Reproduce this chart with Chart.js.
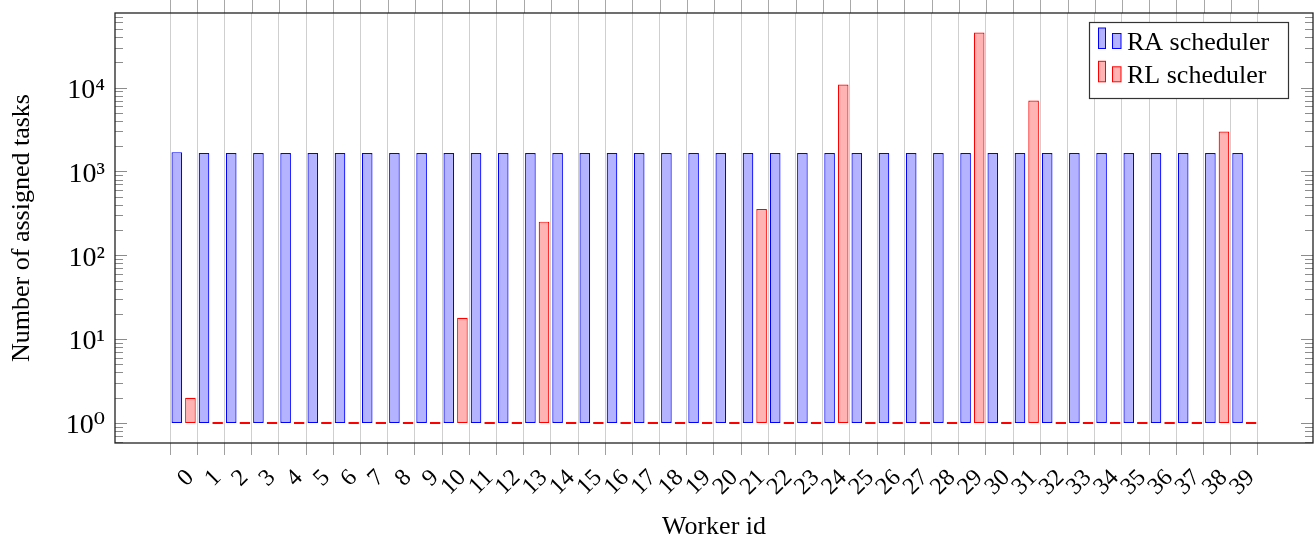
<!DOCTYPE html>
<html>
<head>
<meta charset="utf-8">
<script src="https://cdn.jsdelivr.net/npm/chart.js@4.4.1/dist/chart.umd.min.js"></script>
<style>
  html, body { margin: 0; padding: 0; background: #fff; }
  #wrap { width: 1316px; height: 546px; }
</style>
</head>
<body>
<div id="wrap"><canvas id="tasksChart" width="1316" height="546"></canvas></div>
<script>
const workerIds = [0, 1, 2, 3, 4, 5, 6, 7, 8, 9, 10, 11, 12, 13, 14, 15, 16, 17, 18, 19,
  20, 21, 22, 23, 24, 25, 26, 27, 28, 29, 30, 31, 32, 33, 34, 35, 36, 37, 38, 39];
const raTasks = [1700, 1660, 1660, 1660, 1660, 1660, 1660, 1660, 1660, 1660,
  1660, 1660, 1660, 1660, 1660, 1660, 1660, 1660, 1660, 1660,
  1660, 1660, 1660, 1660, 1660, 1660, 1660, 1660, 1660, 1660,
  1660, 1660, 1660, 1660, 1660, 1660, 1660, 1660, 1660, 1660];
const rlTasks = [2, 1, 1, 1, 1, 1, 1, 1, 1, 1,
  18, 1, 1, 252, 1, 1, 1, 1, 1, 1,
  1, 357, 1, 1, 10900, 1, 1, 1, 1, 45300,
  1, 7000, 1, 1, 1, 1, 1, 1, 2990, 1];
const seriesNames = ["RA scheduler", "RL scheduler"];
const yMajorValues = [1, 10, 100, 1000, 10000];
const yMajorLabels = ["10\u2070", "10\u00B9", "10\u00B2", "10\u00B3", "10\u2074"];

const SERIF = "'Liberation Serif', 'DejaVu Serif', serif";
const Y_MIN = 0.577;
const Y_MAX = 77600;

// grid lines sit between the groups, one more than there are workers
const xGridValues = workerIds.map((id) => id - 0.5).concat([workerIds[workerIds.length - 1] + 0.5]);

// log ticks 1..9 per decade, only the powers get a label
const yTickValues = [];
[0.1, 1, 10, 100, 1000, 10000].forEach((decade) => {
  for (let m = 1; m <= 9; m++) {
    const v = m * decade;
    if (v >= Y_MIN && v <= Y_MAX) yTickValues.push(v);
  }
});

function noEdgePadding(scale) {
  scale.paddingTop = 0;
  scale.paddingBottom = 0;
  scale.paddingLeft = 0;
  scale.paddingRight = 0;
}

const framePlugin = {
  id: "frame",
  afterDraw(chart) {
    const { ctx, chartArea: area, scales } = chart;
    const y = scales.y;
    const x = scales.x;
    ctx.save();

    // inner ticks on left and right
    ctx.strokeStyle = "#8c8c8c";
    ctx.lineWidth = 1;
    yTickValues.forEach((v) => {
      const py = Math.round(y.getPixelForValue(v)) + 0.5;
      const len = yMajorValues.includes(v) ? 12 : 8;
      ctx.beginPath();
      ctx.moveTo(area.left, py);
      ctx.lineTo(area.left + len, py);
      ctx.moveTo(area.right, py);
      ctx.lineTo(area.right - len, py);
      ctx.stroke();
    });

    // tick marks above the top border
    ctx.strokeStyle = "#a8a8a8";
    xGridValues.forEach((v) => {
      const px = Math.round(x.getPixelForValue(v)) + 0.5;
      ctx.beginPath();
      ctx.moveTo(px, area.top - 13);
      ctx.lineTo(px, area.top);
      ctx.stroke();
    });

    // frame
    ctx.strokeStyle = "#222";
    ctx.lineWidth = 1.3;
    ctx.strokeRect(area.left, area.top, area.right - area.left, area.bottom - area.top);

    // legend box
    const bx = 1089.5, by = 22.5, bw = 199, bh = 76;
    ctx.fillStyle = "#fff";
    ctx.fillRect(bx, by, bw, bh);
    ctx.strokeStyle = "#333";
    ctx.lineWidth = 1.2;
    ctx.strokeRect(bx, by, bw, bh);
    chart.data.datasets.forEach((ds, i) => {
      const top = 28 + i * 33.3;
      ctx.lineWidth = 1;
      ctx.fillStyle = ds.backgroundColor;
      ctx.strokeStyle = ds.borderColor;
      ctx.fillRect(1098.5, top, 7, 20.5);
      ctx.strokeRect(1098.5, top, 7, 20.5);
      ctx.fillRect(1112.5, top + 5.5, 8.5, 15);
      ctx.strokeRect(1112.5, top + 5.5, 8.5, 15);
      ctx.fillStyle = "#000";
      ctx.font = "26px " + SERIF;
      ctx.textBaseline = "alphabetic";
      ctx.textAlign = "left";
      ctx.fillText(ds.label, 1127, top + 21.5);
    });
    ctx.restore();
  }
};

new Chart(document.getElementById("tasksChart").getContext("2d"), {
  type: "bar",
  data: {
    datasets: [{
      label: seriesNames[0],
      data: workerIds.map((id, i) => ({ x: id, y: raTasks[i] })),
      backgroundColor: "#b3b3ff",
      borderColor: "#0000ff",
      borderWidth: 1.2,
      borderSkipped: false,
      base: 1
    }, {
      label: seriesNames[1],
      data: workerIds.map((id, i) => ({ x: id, y: rlTasks[i] })),
      backgroundColor: "#ffb3b3",
      borderColor: "#ff0000",
      borderWidth: 1.2,
      borderSkipped: false,
      minBarLength: 2,
      base: 1
    }]
  },
  options: {
    responsive: false,
    animation: false,
    categoryPercentage: 1.0,
    barPercentage: 0.78,
    layout: { padding: { left: 0, right: 3, top: 13, bottom: 0 } },
    plugins: {
      legend: { display: false },
      tooltip: { enabled: false }
    },
    scales: {
      x: {
        type: "linear",
        min: -2.523,
        max: 41.523,
        offset: false,
        afterBuildTicks: (scale) => {
          scale.ticks = xGridValues.map((v) => ({ value: v }));
        },
        afterFit: (scale) => {
          scale.height = 103;
          noEdgePadding(scale);
        },
        ticks: {
          autoSkip: false,
          minRotation: 45,
          maxRotation: 45,
          padding: 9,
          labelOffset: -7,
          color: "#000",
          font: { family: SERIF, size: 24 },
          callback: (value, index) => (index === 0 ? "" : String(workerIds[index - 1]))
        },
        grid: {
          offset: false,
          color: "#cfcfcf",
          lineWidth: 1,
          tickColor: "#a0a0a0",
          tickLength: 12
        },
        border: { display: false },
        title: {
          display: true,
          text: "Worker id",
          color: "#000",
          font: { family: SERIF, size: 26 },
          padding: { top: 0, bottom: 3 }
        }
      },
      y: {
        type: "logarithmic",
        min: Y_MIN,
        max: Y_MAX,
        afterBuildTicks: (scale) => {
          scale.ticks = yTickValues.map((v) => ({ value: v, major: yMajorValues.includes(v) }));
        },
        afterFit: (scale) => {
          scale.width = 115;
          noEdgePadding(scale);
        },
        ticks: {
          autoSkip: false,
          padding: 10,
          labelOffset: 3,
          color: "#000",
          font: { family: SERIF, size: 28 },
          callback: (value) => {
            const k = yMajorValues.indexOf(value);
            return k >= 0 ? yMajorLabels[k] : "";
          }
        },
        grid: { display: false, drawTicks: false },
        border: { display: false },
        title: {
          display: true,
          text: "Number of assigned tasks",
          color: "#000",
          font: { family: SERIF, size: 26 },
          padding: { top: 7, bottom: 0 }
        }
      }
    }
  },
  plugins: [framePlugin]
});
</script>
</body>
</html>
